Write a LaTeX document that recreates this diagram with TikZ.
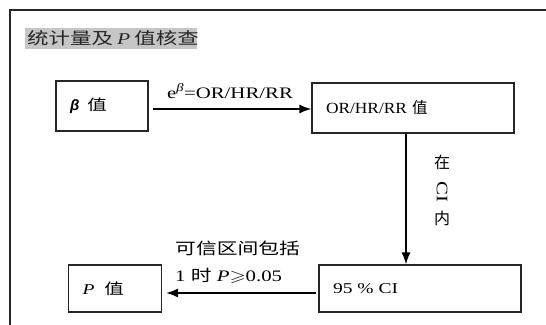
\documentclass[tikz,border=0pt]{standalone}
\usepackage{fontspec}
\usepackage{amssymb}
\usepackage{graphicx}
\setmainfont{Liberation Serif}
\newfontfamily\cjk{Noto Sans CJK SC}
\newfontfamily\cjkw{Noto Sans CJK SC}[FakeStretch=1.3]
\newfontfamily\serifw{Liberation Serif}[FakeStretch=1.3]
\newfontfamily\serifm{Liberation Serif}[FakeStretch=1.12]
\newfontfamily\sansgr{Liberation Sans}
\usetikzlibrary{arrows.meta}
\tikzset{
  frameline/.style={draw=black!85, line width=1.1pt},
  boxnode/.style={draw=black!85, line width=1.1pt, inner ysep=0pt, inner xsep=14pt, align=left,
     font=\fontsize{15}{18}\selectfont},
  arr/.style={draw=black, line width=1.5pt, -{Latex[length=12pt,width=9pt]}},
  lab/.style={font=\fontsize{16}{20}\selectfont\serifw, inner sep=0pt},
}
\begin{document}
\begin{tikzpicture}[x=1pt,y=-1pt]
\useasboundingbox (0,0) rectangle (546,324);
\draw[frameline] (560,10) -- (10,10) -- (10,340);
\fill[gray!45] (25,28) rectangle (197,49);
\node[inner sep=0pt, anchor=west, text=black!85, font=\fontsize{16.5}{20}\selectfont] (title) at (27,38.5)
  {{\cjkw 统计量及} {\serifw\itshape P} {\cjkw 值核查}};
\node[boxnode, text width=64pt, minimum height=50pt] (beta) at (102,106)
  {{\sansgr\bfseries\itshape β}\hspace{8pt}{\cjkw 值}};
\node[boxnode, text width=174pt, minimum height=50pt, font=\fontsize{15.5}{18}\selectfont] (orv) at (413,108)
  {{\serifm OR/HR/RR} {\cjk 值}};
\node[boxnode, text width=65pt, minimum height=47pt] (pv) at (115,288.5)
  {{\serifw\itshape P}\hspace{10pt}{\cjkw 值}};
\node[boxnode, text width=174pt, minimum height=47pt] (ci) at (420,288.5)
  {\serifw 95 \% CI};
\draw[arr, shorten <=4pt] ([yshift=-3pt]beta.east) -- ([yshift=-3pt]beta.east -| orv.west);
\node[lab] (l1) at (230,91) {e\textsuperscript{\itshape β}=OR/HR/RR};
\draw[arr] ([xshift=-7pt]orv.south) -- ([xshift=-7pt]orv.south |- ci.north);
\node[lab, font=\fontsize{16}{20}\selectfont\cjk] (l2a) at (442,162) {在};
\node[lab, rotate=-90] (l2b) at (442,192) {CI};
\node[lab, font=\fontsize{16}{20}\selectfont\cjk] (l2c) at (442,218) {内};
\draw[arr, shorten <=2pt, shorten >=4pt] ([yshift=-4.5pt]ci.west) -- ([yshift=-4.5pt]ci.west -| pv.east);
\node[lab, anchor=west, align=left, font=\fontsize{16}{27}\selectfont\serifw] (l3) at (175,262.5)
  {{\cjkw 可信区间包括}\\1 {\cjkw 时} {\itshape P}\scalebox{1.3}[1]{$\geqslant$}0.05};
\end{tikzpicture}
\end{document}
